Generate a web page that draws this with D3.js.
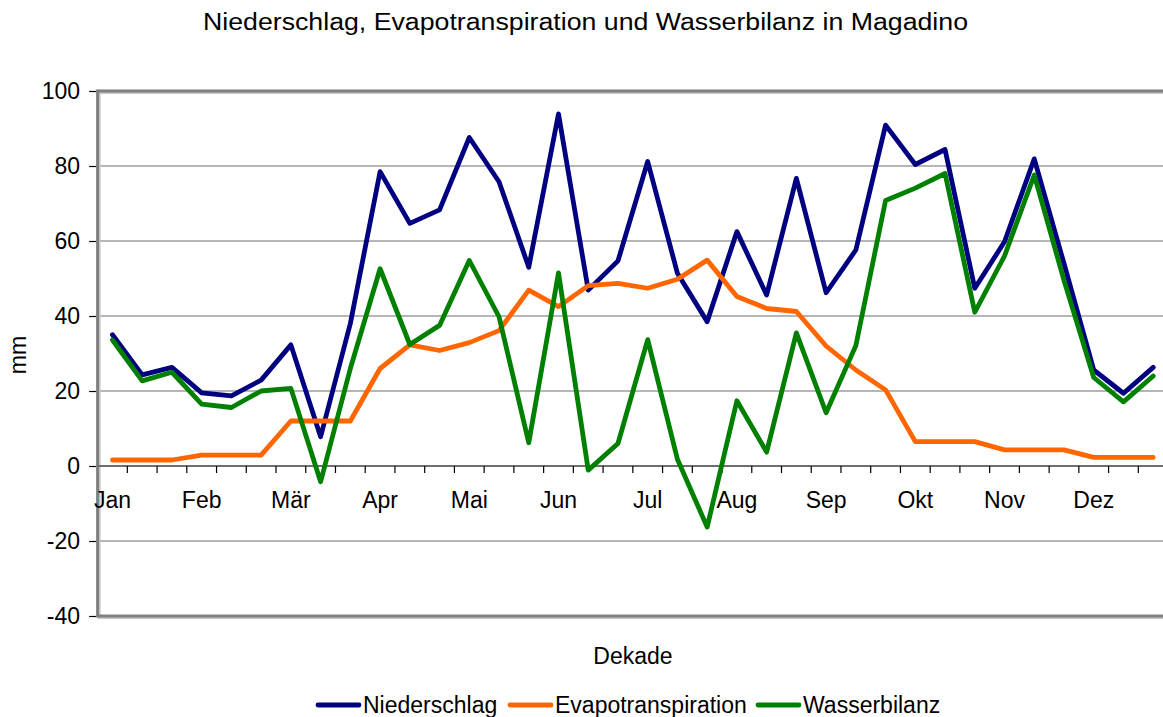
<!DOCTYPE html>
<html><head><meta charset="utf-8">
<script src="https://cdn.jsdelivr.net/npm/d3@7"></script>
<style>
html,body{margin:0;padding:0;background:#fff;}
svg{display:block;font-family:"Liberation Sans",Arial,sans-serif;}
</style></head>
<body><svg id="c" width="1163" height="717"></svg>
<script>
const months = ["Jan","Feb","Mär","Apr","Mai","Jun","Jul","Aug","Sep","Okt","Nov","Dez"];
const dekaden = d3.range(36);
const niederschlag = [35,24.3,26.3,19.5,18.7,22.9,32.3,7.8,38,78.5,64.7,68.3,87.6,75.8,53,93.9,46.9,54.7,81.2,51.4,38.5,62.5,45.6,76.7,46.2,57.6,90.9,80.4,84.4,47.4,59.8,81.9,54,25.6,19.4,26.3];
const evapotranspiration = [1.6,1.6,1.6,2.9,2.9,2.9,12,12,12,26,32.3,30.8,32.9,36.1,46.9,42.5,48.1,48.7,47.4,49.8,54.9,45.2,42,41.2,32,25.6,20.3,6.5,6.5,6.5,4.3,4.3,4.3,2.3,2.3,2.3];
const wasserbilanz = [33.6,22.7,25,16.5,15.6,20,20.7,-4.2,26,52.6,32.4,37.5,54.8,39.8,6.2,51.5,-1.1,6,33.7,1.8,-16.3,17.4,3.7,35.5,14.2,32.1,70.8,74.1,78,41,56,77.6,49.5,23.6,17.1,24];
const yTicks = [100,80,60,40,20,0,-20,-40];
const seriesNames = ["Niederschlag","Evapotranspiration","Wasserbilanz"];
const seriesColors = ["#000080","#FF6600","#008000"];
const seriesData = [niederschlag, evapotranspiration, wasserbilanz];

const svg = d3.select("#c");
const L = 97.6, T = 91, W = 36*29.735, H = 525;
const x = d3.scaleBand().domain(dekaden).range([L, L+W]).paddingInner(0).paddingOuter(0);
const y = d3.scaleLinear().domain([-40,100]).range([T+H, T]);
const cx = i => x(i) + x.bandwidth()/2;
const FS = 23;
const LW = 4.8;

// gridlines
svg.append("g").selectAll("line").data(yTicks.filter(v=>v!==0 && v!==100 && v!==-40)).join("line")
  .attr("x1",L).attr("x2",L+W).attr("y1",d=>y(d)).attr("y2",d=>y(d))
  .attr("stroke","#6e6e6e").attr("stroke-width",1.2);

// plot border (top, bottom, left) with shadow
const bord = svg.append("g");
bord.append("line").attr("x1",L).attr("x2",L+W).attr("y1",T+2).attr("y2",T+2).attr("stroke","#c8c8c8").attr("stroke-width",2);
bord.append("line").attr("x1",L).attr("x2",L+W).attr("y1",y(-40)+2).attr("y2",y(-40)+2).attr("stroke","#c8c8c8").attr("stroke-width",2);
bord.append("line").attr("x1",L+2).attr("x2",L+2).attr("y1",T).attr("y2",T+H).attr("stroke","#c8c8c8").attr("stroke-width",2);
bord.append("line").attr("x1",L).attr("x2",L+W).attr("y1",T).attr("y2",T).attr("stroke","#808080").attr("stroke-width",3);
bord.append("line").attr("x1",L).attr("x2",L+W).attr("y1",y(-40)).attr("y2",y(-40)).attr("stroke","#808080").attr("stroke-width",3);
bord.append("line").attr("x1",L).attr("x2",L).attr("y1",T-1.5).attr("y2",T+H+1.5).attr("stroke","#808080").attr("stroke-width",3);

// y axis ticks + labels
const yAxis = d3.axisLeft(y).tickValues(yTicks).tickSize(7).tickPadding(9).tickFormat(d=>String(d));
const gy = svg.append("g").attr("transform",`translate(${L-1.5},0)`).call(yAxis);
gy.select(".domain").remove();
gy.selectAll(".tick line").attr("stroke","#000").attr("stroke-width",1.2);
gy.selectAll(".tick text").attr("font-size",FS).attr("fill","#000").attr("font-family","Liberation Sans, Arial, sans-serif");

// zero axis line with category ticks
svg.append("line").attr("x1",L).attr("x2",L+W).attr("y1",y(0)).attr("y2",y(0)).attr("stroke","#6e6e6e").attr("stroke-width",2);
svg.append("g").selectAll("line").data(dekaden.slice(1)).join("line")
  .attr("x1",d=>x(d)).attr("x2",d=>x(d)).attr("y1",y(0)).attr("y2",y(0)+7)
  .attr("stroke","#000").attr("stroke-width",1.2);

// month labels
svg.append("g").selectAll("text").data(months).join("text")
  .attr("x",(d,i)=>cx(i*3)).attr("y",y(0)+42)
  .attr("text-anchor","middle").attr("font-size",FS).attr("fill","#000").text(d=>d);

// lines
const line = d3.line().x((d,i)=>cx(i)).y(d=>y(d));
seriesData.forEach((s,k)=>{
  svg.append("path").datum(s).attr("d",line).attr("fill","none")
    .attr("stroke",seriesColors[k]).attr("stroke-width",LW)
    .attr("stroke-linejoin","round").attr("stroke-linecap","round");
});

// titles
svg.append("text").attr("x",203).attr("y",29.5).attr("font-size",FS).attr("fill","#000")
  .attr("textLength",765).attr("lengthAdjust","spacingAndGlyphs")
  .text("Niederschlag, Evapotranspiration und Wasserbilanz in Magadino");
svg.append("text").attr("x",633).attr("y",664).attr("text-anchor","middle").attr("font-size",FS).attr("fill","#000").text("Dekade");
svg.append("text").attr("transform","translate(26,355) rotate(-90)").attr("text-anchor","middle").attr("font-size",FS).attr("fill","#000").text("mm");

// legend
const legX = [318, 510, 758];
const leg = svg.append("g");
seriesNames.forEach((n,k)=>{
  leg.append("line").attr("x1",legX[k]).attr("x2",legX[k]+41).attr("y1",705).attr("y2",705)
    .attr("stroke",seriesColors[k]).attr("stroke-width",LW).attr("stroke-linecap","round");
  leg.append("text").attr("x",legX[k]+45).attr("y",713).attr("font-size",FS).attr("fill","#000").text(n);
});
</script></body></html>
